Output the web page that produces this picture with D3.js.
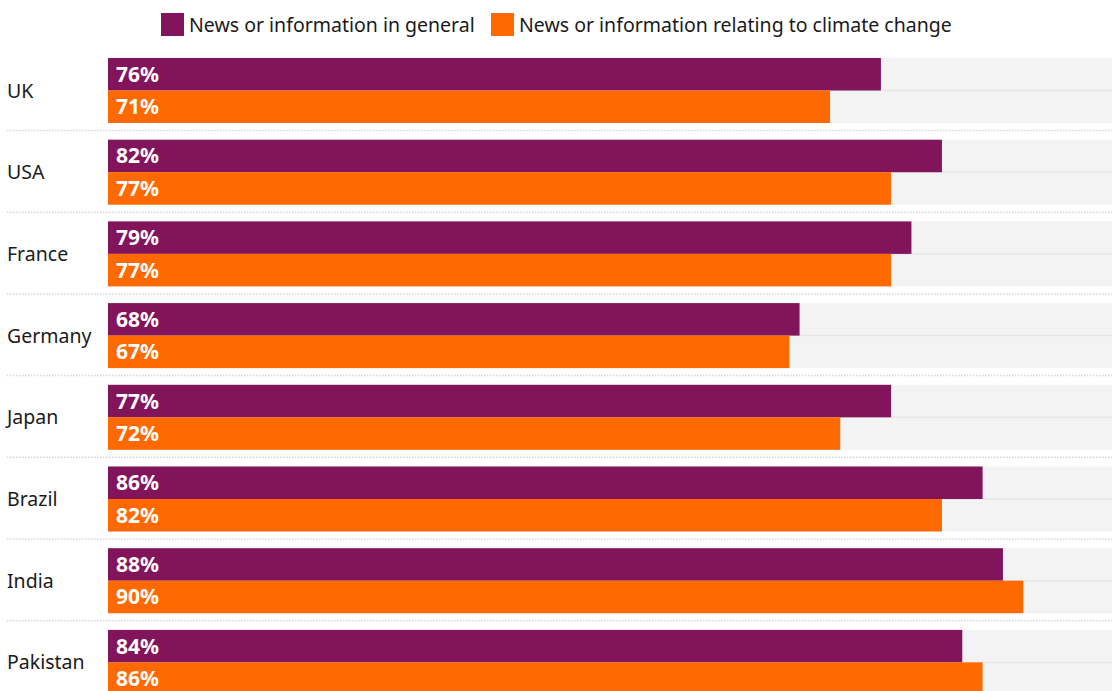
<!DOCTYPE html>
<html>
<head>
<meta charset="utf-8">
<script src="https://cdn.jsdelivr.net/npm/d3@7"></script>
<style>
  html, body { margin: 0; padding: 0; background: #fff; }
  svg { display: block; font-family: "Noto Sans", "Open Sans", sans-serif; }
</style>
</head>
<body>
<svg id="chart" width="1112" height="691"></svg>
<script>
// Share of people using news, by country
const countries = ["UK", "USA", "France", "Germany", "Japan", "Brazil", "India", "Pakistan"];
const seriesNames = ["News or information in general", "News or information relating to climate change"];
const generalNews = [76, 82, 79, 68, 77, 86, 88, 84];
const climateNews = [71, 77, 77, 67, 72, 82, 90, 86];
const seriesColors = ["#82145c", "#ff6900"];

const svg = d3.select("#chart");
const width = 1112;

const step = 81.7, band = 65;
const x = d3.scaleLinear().domain([0, 100]).range([108, 1125]);
const y = d3.scaleBand()
  .domain(countries)
  .range([58, 58 + step * (countries.length - 1) + band])
  .paddingInner((step - band) / step)
  .paddingOuter(0);
const sub = d3.scaleBand().domain([0, 1]).range([0, y.bandwidth()]);

const rows = countries.map((c, i) => ({ country: c, values: [generalNews[i], climateNews[i]] }));

const row = svg.append("g").selectAll("g.row").data(rows).join("g")
  .attr("class", "row")
  .attr("transform", d => `translate(0,${y(d.country)})`);

// grey 100% track
row.append("rect")
  .attr("x", x(0)).attr("y", 0)
  .attr("width", x(100) - x(0)).attr("height", y.bandwidth())
  .attr("fill", "#f3f3f3");
row.append("line")
  .attr("x1", x(0)).attr("x2", width)
  .attr("y1", sub(1)).attr("y2", sub(1))
  .attr("stroke", "#e6e6e6").attr("stroke-width", 1.5);

// bars
row.selectAll("rect.bar").data(d => d.values).join("rect")
  .attr("class", "bar")
  .attr("x", x(0))
  .attr("y", (v, i) => sub(i))
  .attr("width", v => x(v) - x(0))
  .attr("height", sub.bandwidth())
  .attr("fill", (v, i) => seriesColors[i]);

// value labels
row.selectAll("text.val").data(d => d.values).join("text")
  .attr("class", "val")
  .attr("x", x(0) + 8)
  .attr("y", (v, i) => sub(i) + sub.bandwidth() / 2)
  .attr("dy", "0.36em")
  .attr("fill", "#fff")
  .attr("font-weight", 700)
  .attr("font-size", 21)
  .text(v => v + "%");

// country names
row.append("text")
  .attr("x", 7)
  .attr("y", y.bandwidth() / 2)
  .attr("dy", "0.36em")
  .attr("fill", "#1a1a1a")
  .attr("font-size", 19.5)
  .text(d => d.country);

// dotted separators under each group
row.append("line")
  .attr("x1", 7).attr("x2", width)
  .attr("y1", y.bandwidth() + 7.5).attr("y2", y.bandwidth() + 7.5)
  .attr("stroke", "#d6d6d6").attr("stroke-width", 1.5)
  .attr("stroke-dasharray", "1.5,1.5");

// legend
const legend = svg.append("g").attr("transform", "translate(161,13)");
const legendX = [0, 330];
seriesNames.forEach((name, i) => {
  const lg = legend.append("g").attr("transform", `translate(${legendX[i]},0)`);
  lg.append("rect").attr("width", 23).attr("height", 23).attr("fill", seriesColors[i]);
  lg.append("text").attr("x", 28).attr("y", 11.5).attr("dy", "0.36em")
    .attr("font-size", 19.5).attr("fill", "#1a1a1a").text(name);
});
</script>
</body>
</html>
